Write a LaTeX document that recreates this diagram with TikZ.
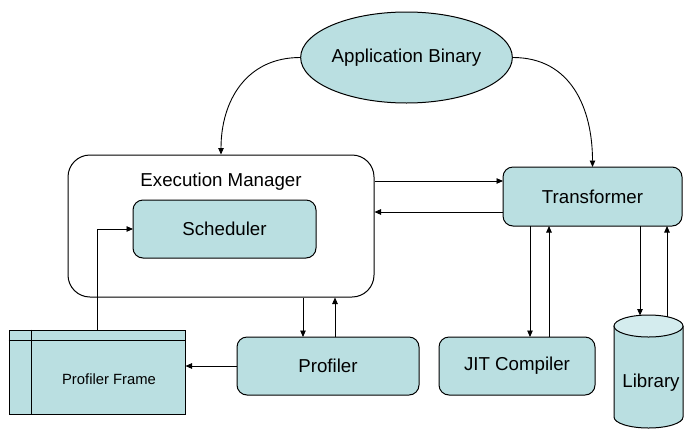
\documentclass[tikz,border=0pt]{standalone}
\usepackage{fontspec}
\setmainfont{Liberation Sans}
\usetikzlibrary{arrows.meta,shapes.geometric}
\definecolor{boxfill}{HTML}{BADFE1}
\definecolor{capfill}{HTML}{D4ECEE}
\tikzset{
  box/.style={draw=black, line width=1pt, fill=boxfill, rounded corners=10pt,
    inner sep=0pt, outer sep=0pt, font=\fontsize{18.7pt}{22pt}\selectfont},
  label text/.style={inner sep=0pt, font=\fontsize{18.7pt}{22pt}\selectfont},
  arr/.style={draw=black, line width=0.9pt, -{Triangle[length=6.5pt,width=5.5pt]}},
  plain/.style={draw=black, line width=0.9pt}
}
\begin{document}
\begin{tikzpicture}[x=1pt,y=-1pt]
\useasboundingbox (0,0) rectangle (684,429);

% source program
\node[ellipse, draw=black, line width=1pt, fill=boxfill, inner sep=0pt,
  minimum width=183pt, minimum height=91pt,
  font=\fontsize{18.7pt}{22pt}\selectfont] (ab) at (406.5,57.5) {Application Binary};

% execution manager with scheduler inside
\node[draw=black, line width=1pt, fill=white, rounded corners=22pt,
  minimum width=306pt, minimum height=142pt, inner sep=0pt] (em) at (221,226) {};
\node[label text] (emt) at (221,182) {Execution Manager};
\node[box, minimum width=183pt, minimum height=58pt] (sc) at (224.5,229) {Scheduler};

% transformer and its helpers
\node[box, minimum width=179pt, minimum height=59pt] (tr) at (592.5,196.5) {Transformer};
\node[box, minimum width=156pt, minimum height=58pt] (jit) at (517,366) {JIT Compiler};
\node[box, minimum width=182pt, minimum height=58pt] (pr) at (328,366) {Profiler};

% profiler frame (table-like box)
\node[draw=black, line width=1pt, fill=boxfill, inner sep=0pt,
  minimum width=176pt, minimum height=84pt,
  font=\fontsize{14.8pt}{18pt}\selectfont] (pf) at (97,372) {};
\draw[line width=1pt] ([yshift=-11pt]pf.north west) -- ([yshift=-11pt]pf.north east);
\draw[line width=1pt] ([xshift=23pt]pf.north west) -- ([xshift=23pt]pf.south west);
\node[inner sep=0pt, font=\fontsize{14.8pt}{18pt}\selectfont] (pft) at (109,379) {Profiler Frame};

% library cylinder
\fill[boxfill] (614,326) -- (614,417)
  .. controls (614,423.1) and (629.4,428) .. (648.5,428)
  .. controls (667.6,428) and (683,423.1) .. (683,417) -- (683,326) -- cycle;
\draw[line width=1pt] (614,326) -- (614,417)
  .. controls (614,423.1) and (629.4,428) .. (648.5,428)
  .. controls (667.6,428) and (683,423.1) .. (683,417) -- (683,326);
\filldraw[fill=capfill, draw=black, line width=1pt] (648.5,326) ellipse [x radius=34.5pt, y radius=11pt];
\node[label text] (lib) at (651,383) {Library};
\coordinate (libin) at (640,315.5);
\coordinate (libout) at (667,317);

% curved feeds from the binary
\draw[arr] (ab.west) to[out=180,in=90,looseness=1.1] (em.north);
\draw[arr] (ab.east) to[out=0,in=90,looseness=1.1] (tr.north);

% manager <-> transformer
\coordinate (t1) at ([yshift=15.5pt]tr.west);
\coordinate (t2) at ([yshift=-15.5pt]tr.west);
\draw[arr] (em.east |- t1) -- (t1);
\draw[arr] (t2) -- (em.east |- t2);

% transformer <-> JIT compiler
\coordinate (j1) at ([xshift=13pt]jit.north);
\coordinate (j2) at ([xshift=32pt]jit.north);
\draw[arr] (tr.south -| j1) -- (j1);
\draw[arr] (j2) -- (tr.south -| j2);

% transformer <-> library
\draw[arr] (tr.south -| libin) -- (libin);
\draw[arr] (libout) -- (tr.south -| libout);

% manager <-> profiler
\coordinate (p1) at ([xshift=-25pt]pr.north);
\coordinate (p2) at ([xshift=7pt]pr.north);
\draw[arr] (em.south -| p1) -- (p1);
\draw[arr] (p2) -- (em.south -| p2);

% profiler -> frame -> scheduler
\draw[arr] (pr.west) -- (pf.east |- pr.west);
\draw[arr] (pf.north) |- (sc.west);
\end{tikzpicture}
\end{document}
